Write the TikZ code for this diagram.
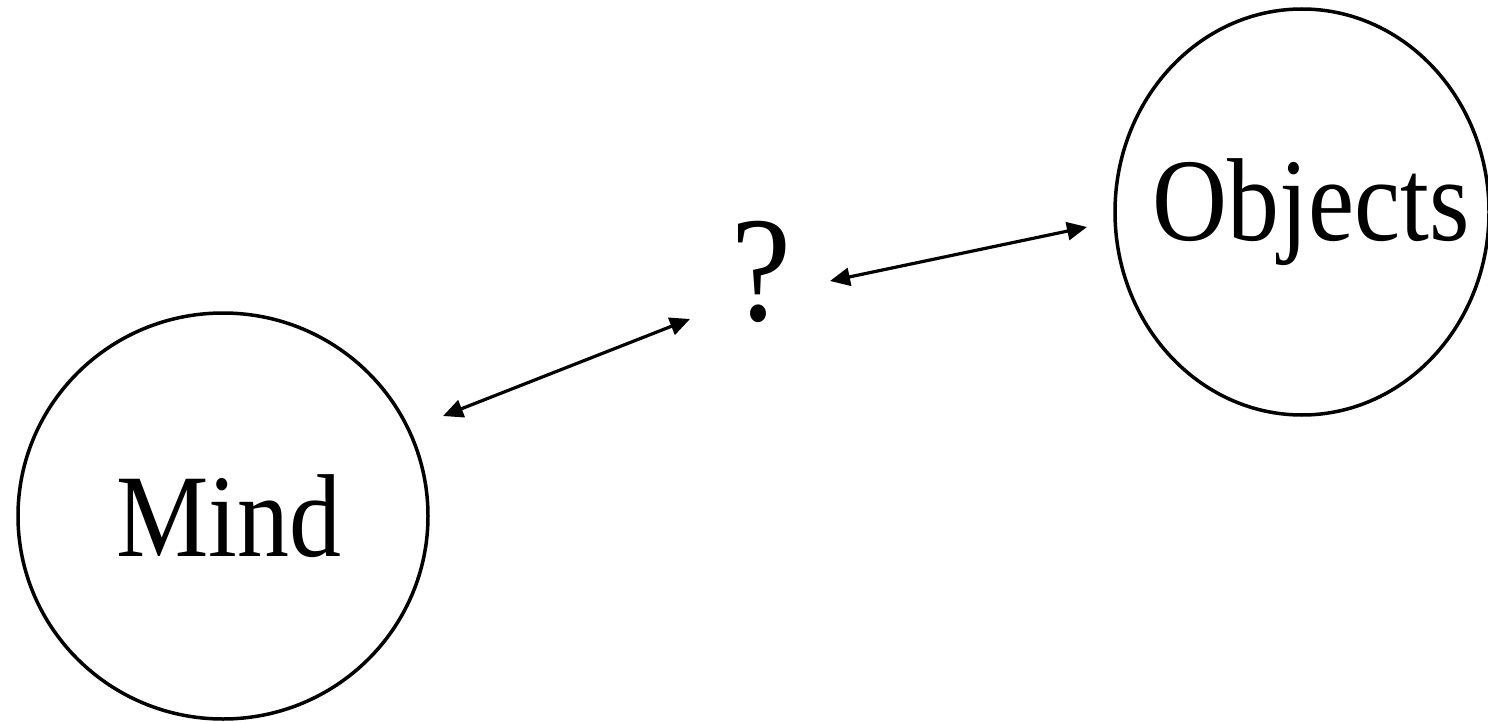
\documentclass[tikz,border=0pt]{standalone}
\usepackage{fontspec}
\setmainfont{Liberation Serif}
\usetikzlibrary{arrows.meta,shapes.geometric}
\begin{document}
\begin{tikzpicture}[x=1pt,y=-1pt,
  bubble/.style={draw,line width=3.5pt,ellipse,inner sep=0pt},
  lbl/.style={font=\fontsize{118}{120}\selectfont},
  qlbl/.style={font=\fontsize{150}{150}\selectfont},
  link/.style={line width=3.2pt,{Triangle[length=20pt,width=18pt]}-{Triangle[length=20pt,width=18pt]}}]
\useasboundingbox (0,0) rectangle (1488,722);
\node[bubble,minimum width=410pt,minimum height=406pt] (mind) at (223,516) {};
\node[lbl] (mindt) at (229,516) {\scalebox{0.88}[1]{Mind}};
\node[bubble,minimum width=374pt,minimum height=406pt] (obj) at (1302,212) {};
\node[lbl] (objt) at (1311,212) {\scalebox{0.88}[1]{Objects}};
\node[qlbl] (q) at (761,272) {\scalebox{0.9}[1]{?}};
\coordinate (a1) at (443,416);
\coordinate (a2) at (690,319);
\coordinate (b1) at (830,281);
\coordinate (b2) at (1087,227);
\draw[link] (a1) -- (a2);
\draw[link] (b1) -- (b2);
\end{tikzpicture}
\end{document}
